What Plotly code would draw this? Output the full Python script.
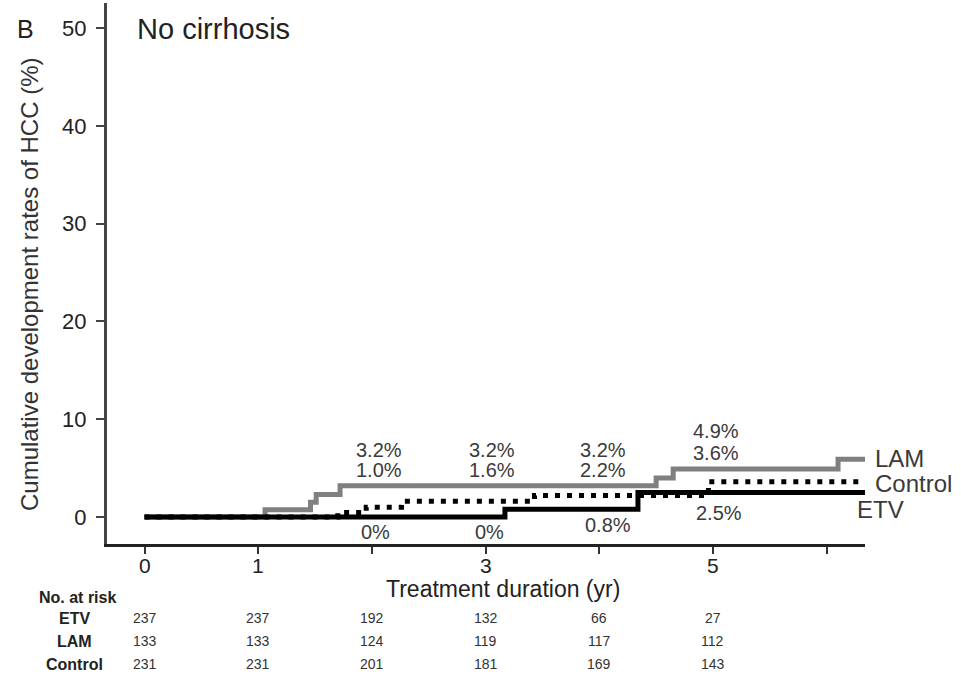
import plotly.graph_objects as go

# curvas de incidencia acumulada (anos, %)
etv_t = [0, 3.17, 4.34, 6.34]
etv_y = [0, 0.8, 2.5, 2.5]
lam_t = [0, 1.06, 1.46, 1.51, 1.72, 4.50, 4.65, 6.10, 6.34]
lam_y = [0, 0.75, 1.5, 2.3, 3.2, 4.0, 4.9, 5.9, 5.9]
ctl_t = [0, 1.70, 1.95, 2.26, 3.43, 4.96, 6.34]
ctl_y = [0, 0.45, 1.0, 1.6, 2.2, 3.6, 3.6]

# taxas anotadas em 2, 3, 4 e 5 anos
anos_rot = [2, 3, 4, 5]
rot_lam = ["3.2%", "3.2%", "3.2%", "4.9%"]
rot_ctl = ["1.0%", "1.6%", "2.2%", "3.6%"]
rot_etv = ["0%", "0%", "0.8%", "2.5%"]

# eixo x: marcas e rotulos
x_marcas = [0, 1, 2, 3, 4, 5, 6]
x_rotulos = ["0", "1", "3", "5"]
y_marcas = [0, 10, 20, 30, 40, 50]

# numero em risco
anos_risco = [0, 1, 2, 3, 4, 5]
risco_etv = [237, 237, 192, 132, 66, 27]
risco_lam = [133, 133, 124, 119, 117, 112]
risco_ctl = [231, 231, 201, 181, 169, 143]

FONTE = "Arial, Liberation Sans, sans-serif"
W, H = 961, 693
ML, MR, MT, MB = 107, 96, 3, 149


def py(pix):
    # pixel vertical -> coordenada paper
    return (H - MB - pix) / (H - MT - MB)


def px(pix):
    return (pix - ML) / (W - ML - MR)


def txt(texto, x, y, tam, cor="#222", xref="paper", **kw):
    d = dict(text=texto, xref=xref, yref="paper", x=x, y=y, showarrow=False,
             xanchor="center", yanchor="middle", font=dict(family=FONTE, size=tam, color=cor))
    d.update(kw)
    return d


fig = go.Figure()
fig.add_scatter(x=lam_t, y=lam_y, mode="lines", line_shape="hv",
                line=dict(color="#808080", width=5), name="LAM")
fig.add_scatter(x=ctl_t, y=ctl_y, mode="lines", line_shape="hv",
                line=dict(color="black", width=5, dash="5px,7px"), name="Control")
fig.add_scatter(x=etv_t, y=etv_y, mode="lines", line_shape="hv",
                line=dict(color="black", width=5), name="ETV")

anot = []
cor_txt = "#3a3a3a"
for i in range(len(anos_rot)):
    a = anos_rot[i]
    dx = 0.06 if a < 4 else 0.03
    y_lam = 6.85 if a < 5 else 8.8
    y_ctl = 4.8 if a < 5 else 6.5
    anot.append(dict(x=a + dx, y=y_lam, text=rot_lam[i]))
    anot.append(dict(x=a + dx, y=y_ctl, text=rot_ctl[i]))
    if a < 4:
        anot.append(dict(x=a + 0.03, y=-1.5, text=rot_etv[i]))
    elif a == 4:
        anot.append(dict(x=a + 0.08, y=-0.8, text=rot_etv[i]))
    else:
        anot.append(dict(x=a + 0.05, y=0.4, text=rot_etv[i]))
for an in anot:
    an.update(xref="x", yref="y", showarrow=False, xanchor="center", yanchor="middle",
              font=dict(family=FONTE, size=20, color=cor_txt))

# rotulos do eixo x (0, 1, 3, 5)
for r in x_rotulos:
    anot.append(txt(r, float(r), py(565), 21, xref="x"))

# nomes das curvas
for nome, xp, yp in [("LAM", 873, 458), ("Control", 873, 483), ("ETV", 855, 509)]:
    anot.append(txt(nome, px(xp), py(yp), 24, cor_txt, xanchor="left"))

anot.append(txt("No cirrhosis", px(135), py(29), 29, xanchor="left"))
anot.append(txt("B", px(25), py(29), 25))
anot.append(txt("Cumulative development rates of HCC (%)", px(29), py(284), 24, "#333", textangle=-90))
anot.append(txt("Treatment duration (yr)", px(503), py(589), 23))

# tabela de risco
anot.append(txt("<b>No. at risk</b>", px(37), py(597), 16, xanchor="left"))
linhas = [("ETV", risco_etv, 618), ("LAM", risco_lam, 641), ("Control", risco_ctl, 664)]
for nome, vals, yp in linhas:
    anot.append(txt("<b>" + nome + "</b>", px(74), py(yp), 16))
    for j in range(len(anos_risco)):
        anot.append(txt(str(vals[j]), anos_risco[j], py(yp), 14, "#333", xref="x"))

fig.update_layout(width=W, height=H, margin=dict(l=ML, r=MR, t=MT, b=MB),
                  plot_bgcolor="white", paper_bgcolor="white", showlegend=False,
                  annotations=anot)
fig.update_xaxes(range=[-0.33, 6.337], showgrid=False, zeroline=False, showline=True, linecolor="#222",
                 linewidth=3, ticks="outside", ticklen=7, tickwidth=2, tickcolor="#333",
                 tickvals=x_marcas, showticklabels=False)
fig.update_yaxes(range=[-2.76, 52.56], showgrid=False, zeroline=False, showline=True, linecolor="#444",
                 linewidth=3, ticks="outside", ticklen=8, tickwidth=2, tickcolor="#444",
                 tickvals=y_marcas, ticklabelstandoff=5,
                 tickfont=dict(family=FONTE, size=22, color="#222"))
fig.write_html("out.html", post_script="document.body.style.margin='0';",
               config={"displayModeBar": False})
